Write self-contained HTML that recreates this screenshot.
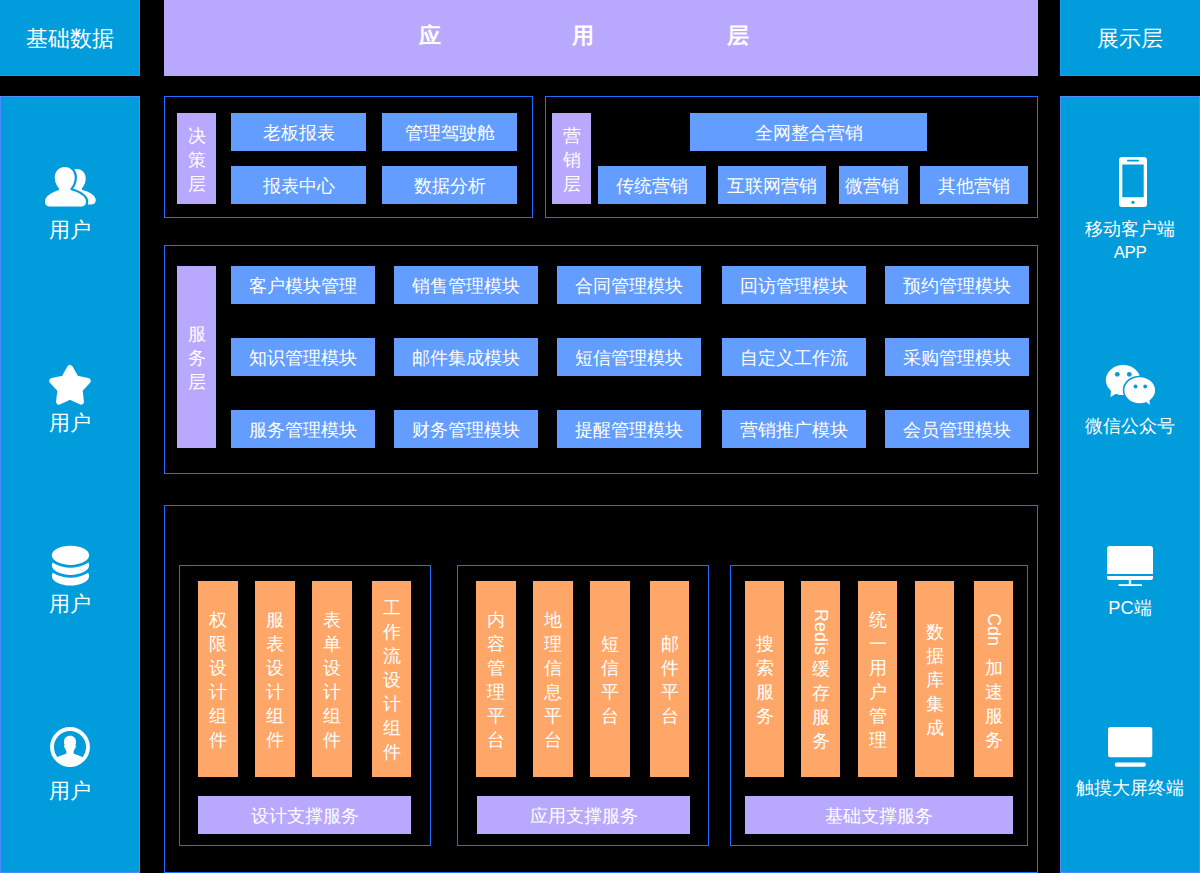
<!DOCTYPE html>
<html><head><meta charset="utf-8"><title>architecture</title>
<style>
html,body{margin:0;padding:0;background:#000;}
body{width:1200px;height:873px;overflow:hidden;position:relative;font-family:"Liberation Sans", sans-serif;color:#fff;}
.a{position:absolute;box-sizing:border-box;}
.h{text-align:center;white-space:nowrap;color:#fff;}
.t22{font-size:22px;text-align:center;color:#fff;white-space:nowrap;}
.b{font-weight:bold;}
.t{text-align:center;color:#fff;white-space:nowrap;}
.v{display:flex;align-items:center;justify-content:center;}
.vin{position:relative;width:100%;}
.vc{text-align:center;font-size:18.4px;color:#fff;}
.vl{position:relative;font-size:18px;color:#fff;}
.vl{display:flex;justify-content:center;}
.vl span{position:relative;writing-mode:vertical-rl;white-space:nowrap;line-height:24px;}
</style></head><body>
<div class="a" style="left:-1px;top:-1px;width:141px;height:77px;background:#009cdc;border:1px solid #0ba4ea"></div>
<div class="a" style="left:1060px;top:-1px;width:141px;height:77px;background:#009cdc;border:1px solid #0ba4ea"></div>
<div class="a" style="left:0px;top:96px;width:140px;height:777px;background:#009cdc;border:1px solid #4f8dff"></div>
<div class="a" style="left:1060px;top:96px;width:140px;height:777px;background:#009cdc;border:1px solid #4f8dff"></div>
<div class="a" style="left:164px;top:0px;width:874px;height:76px;background:#b8a9ff"></div>
<div class="a t22" style="left:0;top:0;width:140px;height:76px;line-height:77px">基础数据</div>
<div class="a t22" style="left:1060px;top:0;width:140px;height:76px;line-height:77.2px">展示层</div>
<div class="a t22 b" style="left:409.5px;top:0;width:40px;height:76px;line-height:72px">应</div>
<div class="a t22 b" style="left:563.2px;top:0;width:40px;height:76px;line-height:72px">用</div>
<div class="a t22 b" style="left:717.5px;top:0;width:40px;height:76px;line-height:72px">层</div>
<div class="a" style="left:164px;top:96px;width:369px;height:122px;border:1px solid #1d70ff"></div>
<div class="a" style="left:545px;top:96px;width:493px;height:122px;border:1px solid #1d70ff"></div>
<div class="a" style="left:164px;top:245px;width:874px;height:229px;border:1px solid #1d70ff"></div>
<div class="a" style="left:164px;top:505px;width:874px;height:368px;border:1px solid #1d70ff"></div>
<div class="a" style="left:179px;top:565px;width:252px;height:281px;border:1px solid #1d70ff"></div>
<div class="a" style="left:457px;top:565px;width:252px;height:281px;border:1px solid #1d70ff"></div>
<div class="a" style="left:730px;top:565px;width:298px;height:281px;border:1px solid #1d70ff"></div>
<div class="a v" style="left:177px;top:113px;width:39px;height:91px;background:#b8a9ff"><div class="vin" style="top:1.2px"><div class="vc" style="height:24px;line-height:24px">决</div><div class="vc" style="height:24px;line-height:24px">策</div><div class="vc" style="height:24px;line-height:24px">层</div></div></div>
<div class="a h" style="left:231px;top:113px;width:135px;height:38px;background:#629dff;font-size:18.4px;line-height:38px;"><span style="position:relative;top:0.7px">老板报表</span></div>
<div class="a h" style="left:382px;top:113px;width:135px;height:38px;background:#629dff;font-size:18.4px;line-height:38px;"><span style="position:relative;top:0.7px">管理驾驶舱</span></div>
<div class="a h" style="left:231px;top:166px;width:135px;height:38px;background:#629dff;font-size:18.4px;line-height:38px;"><span style="position:relative;top:0.7px">报表中心</span></div>
<div class="a h" style="left:382px;top:166px;width:135px;height:38px;background:#629dff;font-size:18.4px;line-height:38px;"><span style="position:relative;top:0.7px">数据分析</span></div>
<div class="a v" style="left:552px;top:113px;width:39px;height:91px;background:#b8a9ff"><div class="vin" style="top:1.2px"><div class="vc" style="height:24px;line-height:24px">营</div><div class="vc" style="height:24px;line-height:24px">销</div><div class="vc" style="height:24px;line-height:24px">层</div></div></div>
<div class="a h" style="left:690px;top:113px;width:237px;height:38px;background:#629dff;font-size:18.4px;line-height:38px;"><span style="position:relative;top:0.7px">全网整合营销</span></div>
<div class="a h" style="left:598px;top:166px;width:108px;height:38px;background:#629dff;font-size:18.4px;line-height:38px;"><span style="position:relative;top:0.7px">传统营销</span></div>
<div class="a h" style="left:718px;top:166px;width:108px;height:38px;background:#629dff;font-size:18.4px;line-height:38px;"><span style="position:relative;top:0.7px">互联网营销</span></div>
<div class="a h" style="left:839px;top:166px;width:69px;height:38px;background:#629dff;font-size:18.4px;line-height:38px;text-indent:-3px"><span style="position:relative;top:0.7px">微营销</span></div>
<div class="a h" style="left:920px;top:166px;width:108px;height:38px;background:#629dff;font-size:18.4px;line-height:38px;"><span style="position:relative;top:0.7px">其他营销</span></div>
<div class="a v" style="left:177px;top:266px;width:39px;height:182px;background:#b8a9ff"><div class="vin" style="top:1.2px"><div class="vc" style="height:24px;line-height:24px">服</div><div class="vc" style="height:24px;line-height:24px">务</div><div class="vc" style="height:24px;line-height:24px">层</div></div></div>
<div class="a h" style="left:231px;top:266px;width:144px;height:38px;background:#629dff;font-size:18.4px;line-height:38px;"><span style="position:relative;top:0.7px">客户模块管理</span></div>
<div class="a h" style="left:394px;top:266px;width:144px;height:38px;background:#629dff;font-size:18.4px;line-height:38px;"><span style="position:relative;top:0.7px">销售管理模块</span></div>
<div class="a h" style="left:557px;top:266px;width:144px;height:38px;background:#629dff;font-size:18.4px;line-height:38px;"><span style="position:relative;top:0.7px">合同管理模块</span></div>
<div class="a h" style="left:722px;top:266px;width:144px;height:38px;background:#629dff;font-size:18.4px;line-height:38px;"><span style="position:relative;top:0.7px">回访管理模块</span></div>
<div class="a h" style="left:885px;top:266px;width:144px;height:38px;background:#629dff;font-size:18.4px;line-height:38px;"><span style="position:relative;top:0.7px">预约管理模块</span></div>
<div class="a h" style="left:231px;top:338px;width:144px;height:38px;background:#629dff;font-size:18.4px;line-height:38px;"><span style="position:relative;top:0.7px">知识管理模块</span></div>
<div class="a h" style="left:394px;top:338px;width:144px;height:38px;background:#629dff;font-size:18.4px;line-height:38px;"><span style="position:relative;top:0.7px">邮件集成模块</span></div>
<div class="a h" style="left:557px;top:338px;width:144px;height:38px;background:#629dff;font-size:18.4px;line-height:38px;"><span style="position:relative;top:0.7px">短信管理模块</span></div>
<div class="a h" style="left:722px;top:338px;width:144px;height:38px;background:#629dff;font-size:18.4px;line-height:38px;"><span style="position:relative;top:0.7px">自定义工作流</span></div>
<div class="a h" style="left:885px;top:338px;width:144px;height:38px;background:#629dff;font-size:18.4px;line-height:38px;"><span style="position:relative;top:0.7px">采购管理模块</span></div>
<div class="a h" style="left:231px;top:410px;width:144px;height:38px;background:#629dff;font-size:18.4px;line-height:38px;"><span style="position:relative;top:0.7px">服务管理模块</span></div>
<div class="a h" style="left:394px;top:410px;width:144px;height:38px;background:#629dff;font-size:18.4px;line-height:38px;"><span style="position:relative;top:0.7px">财务管理模块</span></div>
<div class="a h" style="left:557px;top:410px;width:144px;height:38px;background:#629dff;font-size:18.4px;line-height:38px;"><span style="position:relative;top:0.7px">提醒管理模块</span></div>
<div class="a h" style="left:722px;top:410px;width:144px;height:38px;background:#629dff;font-size:18.4px;line-height:38px;"><span style="position:relative;top:0.7px">营销推广模块</span></div>
<div class="a h" style="left:885px;top:410px;width:144px;height:38px;background:#629dff;font-size:18.4px;line-height:38px;"><span style="position:relative;top:0.7px">会员管理模块</span></div>
<div class="a v" style="left:198px;top:581px;width:40px;height:196px;background:#ffa768"><div class="vin" style="top:1.2px"><div class="vc" style="height:24px;line-height:24px">权</div><div class="vc" style="height:24px;line-height:24px">限</div><div class="vc" style="height:24px;line-height:24px">设</div><div class="vc" style="height:24px;line-height:24px">计</div><div class="vc" style="height:24px;line-height:24px">组</div><div class="vc" style="height:24px;line-height:24px">件</div></div></div>
<div class="a v" style="left:255px;top:581px;width:40px;height:196px;background:#ffa768"><div class="vin" style="top:1.2px"><div class="vc" style="height:24px;line-height:24px">服</div><div class="vc" style="height:24px;line-height:24px">表</div><div class="vc" style="height:24px;line-height:24px">设</div><div class="vc" style="height:24px;line-height:24px">计</div><div class="vc" style="height:24px;line-height:24px">组</div><div class="vc" style="height:24px;line-height:24px">件</div></div></div>
<div class="a v" style="left:312px;top:581px;width:40px;height:196px;background:#ffa768"><div class="vin" style="top:1.2px"><div class="vc" style="height:24px;line-height:24px">表</div><div class="vc" style="height:24px;line-height:24px">单</div><div class="vc" style="height:24px;line-height:24px">设</div><div class="vc" style="height:24px;line-height:24px">计</div><div class="vc" style="height:24px;line-height:24px">组</div><div class="vc" style="height:24px;line-height:24px">件</div></div></div>
<div class="a v" style="left:372px;top:581px;width:39px;height:196px;background:#ffa768"><div class="vin" style="top:1.2px"><div class="vc" style="height:24px;line-height:24px">工</div><div class="vc" style="height:24px;line-height:24px">作</div><div class="vc" style="height:24px;line-height:24px">流</div><div class="vc" style="height:24px;line-height:24px">设</div><div class="vc" style="height:24px;line-height:24px">计</div><div class="vc" style="height:24px;line-height:24px">组</div><div class="vc" style="height:24px;line-height:24px">件</div></div></div>
<div class="a v" style="left:476px;top:581px;width:40px;height:196px;background:#ffa768"><div class="vin" style="top:1.2px"><div class="vc" style="height:24px;line-height:24px">内</div><div class="vc" style="height:24px;line-height:24px">容</div><div class="vc" style="height:24px;line-height:24px">管</div><div class="vc" style="height:24px;line-height:24px">理</div><div class="vc" style="height:24px;line-height:24px">平</div><div class="vc" style="height:24px;line-height:24px">台</div></div></div>
<div class="a v" style="left:533px;top:581px;width:40px;height:196px;background:#ffa768"><div class="vin" style="top:1.2px"><div class="vc" style="height:24px;line-height:24px">地</div><div class="vc" style="height:24px;line-height:24px">理</div><div class="vc" style="height:24px;line-height:24px">信</div><div class="vc" style="height:24px;line-height:24px">息</div><div class="vc" style="height:24px;line-height:24px">平</div><div class="vc" style="height:24px;line-height:24px">台</div></div></div>
<div class="a v" style="left:590px;top:581px;width:40px;height:196px;background:#ffa768"><div class="vin" style="top:1.2px"><div class="vc" style="height:24px;line-height:24px">短</div><div class="vc" style="height:24px;line-height:24px">信</div><div class="vc" style="height:24px;line-height:24px">平</div><div class="vc" style="height:24px;line-height:24px">台</div></div></div>
<div class="a v" style="left:650px;top:581px;width:39px;height:196px;background:#ffa768"><div class="vin" style="top:1.2px"><div class="vc" style="height:24px;line-height:24px">邮</div><div class="vc" style="height:24px;line-height:24px">件</div><div class="vc" style="height:24px;line-height:24px">平</div><div class="vc" style="height:24px;line-height:24px">台</div></div></div>
<div class="a v" style="left:745px;top:581px;width:39px;height:196px;background:#ffa768"><div class="vin" style="top:1.2px"><div class="vc" style="height:24px;line-height:24px">搜</div><div class="vc" style="height:24px;line-height:24px">索</div><div class="vc" style="height:24px;line-height:24px">服</div><div class="vc" style="height:24px;line-height:24px">务</div></div></div>
<div class="a v" style="left:801px;top:581px;width:39px;height:196px;background:#ffa768"><div class="vin" style="top:1px"><div class="vl" style="height:50px"><span style="top:1.5px">Redis</span></div><div class="vc" style="height:24px;line-height:24px">缓</div><div class="vc" style="height:24px;line-height:24px">存</div><div class="vc" style="height:24px;line-height:24px">服</div><div class="vc" style="height:24px;line-height:24px">务</div></div></div>
<div class="a v" style="left:858px;top:581px;width:39px;height:196px;background:#ffa768"><div class="vin" style="top:1.2px"><div class="vc" style="height:24px;line-height:24px">统</div><div class="vc" style="height:24px;line-height:24px">一</div><div class="vc" style="height:24px;line-height:24px">用</div><div class="vc" style="height:24px;line-height:24px">户</div><div class="vc" style="height:24px;line-height:24px">管</div><div class="vc" style="height:24px;line-height:24px">理</div></div></div>
<div class="a v" style="left:915px;top:581px;width:39px;height:196px;background:#ffa768"><div class="vin" style="top:1.2px"><div class="vc" style="height:24px;line-height:24px">数</div><div class="vc" style="height:24px;line-height:24px">据</div><div class="vc" style="height:24px;line-height:24px">库</div><div class="vc" style="height:24px;line-height:24px">集</div><div class="vc" style="height:24px;line-height:24px">成</div></div></div>
<div class="a v" style="left:974px;top:581px;width:39px;height:196px;background:#ffa768"><div class="vin" style="top:2.5px"><div class="vl" style="height:45.5px"><span style="top:2px">Cdn</span></div><div class="vc" style="height:24px;line-height:24px">加</div><div class="vc" style="height:24px;line-height:24px">速</div><div class="vc" style="height:24px;line-height:24px">服</div><div class="vc" style="height:24px;line-height:24px">务</div></div></div>
<div class="a h" style="left:198px;top:796px;width:213px;height:38px;background:#b8a9ff;font-size:18.4px;line-height:38px;"><span style="position:relative;top:0.7px">设计支撑服务</span></div>
<div class="a h" style="left:477px;top:796px;width:213px;height:38px;background:#b8a9ff;font-size:18.4px;line-height:38px;"><span style="position:relative;top:0.7px">应用支撑服务</span></div>
<div class="a h" style="left:745px;top:796px;width:268px;height:38px;background:#b8a9ff;font-size:18.4px;line-height:38px;"><span style="position:relative;top:0.7px">基础支撑服务</span></div>
<div class="a t" style="left:0px;top:218px;width:140px;font-size:20.5px;line-height:23px">用户</div>
<div class="a t" style="left:0px;top:411px;width:140px;font-size:20.5px;line-height:23px">用户</div>
<div class="a t" style="left:0px;top:592px;width:140px;font-size:20.5px;line-height:23px">用户</div>
<div class="a t" style="left:0px;top:779px;width:140px;font-size:20.5px;line-height:23px">用户</div>
<div class="a t" style="left:1060px;top:216.8px;width:140px;font-size:18.3px;line-height:23.6px">移动客户端<br><span style="font-size:17px;letter-spacing:-0.5px">APP</span></div>
<div class="a t" style="left:1060px;top:414.5px;width:140px;font-size:18.2px;line-height:23px">微信公众号</div>
<div class="a t" style="left:1060px;top:596.5px;width:140px;font-size:18.2px;line-height:23px">PC端</div>
<div class="a t" style="left:1060px;top:777px;width:140px;font-size:18.2px;line-height:23px">触摸大屏终端</div>
<svg class="a" style="left:45px;top:166px" width="51" height="42" viewBox="0 0 51 42">
<path fill="#fff" transform="translate(12 0) translate(20.5 20.8) scale(0.89 0.9) translate(-20.5 -20.8)" d="M19.75 1 C25.5 1 29.75 5.5 29.75 11.5 C29.75 16.5 27.5 20 25.5 22.5 L25.5 24 C34 26.5 41 30 41 35.5 C41 39 39 40.6 35.5 40.6 L5.5 40.6 C2 40.6 0 39 0 35.5 C0 30 7 26.5 14 24 L14 22.5 C12 20 9.75 16.5 9.75 11.5 C9.75 5.5 14 1 19.75 1 Z"/>
<path fill="#fff" stroke="#009cdc" stroke-width="4.4" paint-order="stroke" d="M19.75 1 C25.5 1 29.75 5.5 29.75 11.5 C29.75 16.5 27.5 20 25.5 22.5 L25.5 24 C34 26.5 41 30 41 35.5 C41 39 39 40.6 35.5 40.6 L5.5 40.6 C2 40.6 0 39 0 35.5 C0 30 7 26.5 14 24 L14 22.5 C12 20 9.75 16.5 9.75 11.5 C9.75 5.5 14 1 19.75 1 Z"/>
</svg>
<svg class="a" style="left:45px;top:360px" width="50" height="50" viewBox="0 0 50 50"><path fill="#fff" stroke="#fff" stroke-width="6" stroke-linejoin="round" d="M25.00 8.00 L30.88 18.51 L42.69 20.85 L34.51 29.69 L35.93 41.65 L25.00 36.60 L14.07 41.65 L15.49 29.69 L7.31 20.85 L19.12 18.51 Z"/></svg>
<svg class="a" style="left:45px;top:540px" width="50" height="50" viewBox="0 0 50 50">
<ellipse cx="25.5" cy="36.0" rx="18.6" ry="9.6" fill="#fff"/>
<ellipse cx="25.5" cy="25.3" rx="18.6" ry="9.6" fill="#fff" stroke="#009cdc" stroke-width="5.6" paint-order="stroke"/>
<ellipse cx="25.5" cy="15.3" rx="18.6" ry="9.6" fill="#fff" stroke="#009cdc" stroke-width="5.6" paint-order="stroke"/>
</svg>
<svg class="a" style="left:50px;top:727px" width="40" height="40" viewBox="0 0 40 40">
<defs><clipPath id="cc"><circle cx="20" cy="20" r="17.5"/></clipPath></defs>
<circle cx="20" cy="20" r="18" fill="none" stroke="#fff" stroke-width="3.9"/>
<g clip-path="url(#cc)" fill="#fff">
<path d="M20 8.75 C23.6 8.75 26 11.2 26 14.8 C26 16 25.8 17 25.4 17.8 C26.2 18.6 26 20 25 21.8 C24.3 23 23.6 23.8 23.6 25 L23.6 26.6 C26.5 27.8 30 29 33 30.5 L40 30.5 L40 40 L0 40 L0 30.5 L7 30.5 C10 29 13.5 27.8 16.4 26.6 L16.4 25 C16.4 23.8 15.7 23 15 21.8 C14 20 13.8 18.6 14.6 17.8 C14.2 17 14 16 14 14.8 C14 11.2 16.4 8.75 20 8.75 Z"/>
</g>
</svg>
<svg class="a" style="left:1119px;top:157px" width="28" height="50" viewBox="0 0 28 50">
<path fill="#fff" fill-rule="evenodd" d="M3 0 H25 A3 3 0 0 1 28 3 V47 A3 3 0 0 1 25 50 H3 A3 3 0 0 1 0 47 V3 A3 3 0 0 1 3 0 Z M3.3 7.5 V40.3 H24.7 V7.5 Z"/>
<rect x="8" y="2.8" width="12" height="1.8" rx="0.9" fill="#009cdc"/>
<circle cx="14" cy="45.3" r="1.6" fill="#009cdc"/>
</svg>
<svg class="a" style="left:1105px;top:364px" width="51" height="42" viewBox="0 0 51 42">
<ellipse cx="18.15" cy="16.07" rx="17.3" ry="15.04" fill="#fff"/>
<path d="M6 26 L5.5 33 L14 28 Z" fill="#fff"/>
<ellipse cx="34.7" cy="26.27" rx="15.34" ry="13.03" fill="#fff" stroke="#009cdc" stroke-width="3.2" paint-order="stroke"/>
<path d="M40 37 L45 41 L44 33 Z" fill="#fff"/>
<circle cx="12.3" cy="10.3" r="2.4" fill="#009cdc"/>
<circle cx="24.3" cy="10.3" r="2.4" fill="#009cdc"/>
<circle cx="30.5" cy="22.5" r="1.9" fill="#009cdc"/>
<circle cx="40.2" cy="22.5" r="1.9" fill="#009cdc"/>
</svg>
<svg class="a" style="left:1107px;top:545.8px" width="46" height="41" viewBox="0 0 46 41">
<path fill="#fff" d="M3 0 H43 A3 3 0 0 1 46 3 V28 H0 V3 A3 3 0 0 1 3 0 Z"/>
<path fill="#fff" d="M0 30 H46 V31.5 A2.5 2.5 0 0 1 43.5 34 H2.5 A2.5 2.5 0 0 1 0 31.5 Z"/>
<rect x="21.8" y="34" width="2.4" height="4.5" fill="#fff"/>
<rect x="11.5" y="38.2" width="23.5" height="1.8" fill="#fff"/>
</svg>
<svg class="a" style="left:1108px;top:727px" width="45" height="40" viewBox="0 0 45 40">
<rect x="0" y="0" width="44.3" height="30.3" rx="2.5" fill="#fff"/>
<rect x="6.7" y="35.6" width="31.2" height="4.2" rx="2.1" fill="#fff"/>
</svg>
</body></html>
